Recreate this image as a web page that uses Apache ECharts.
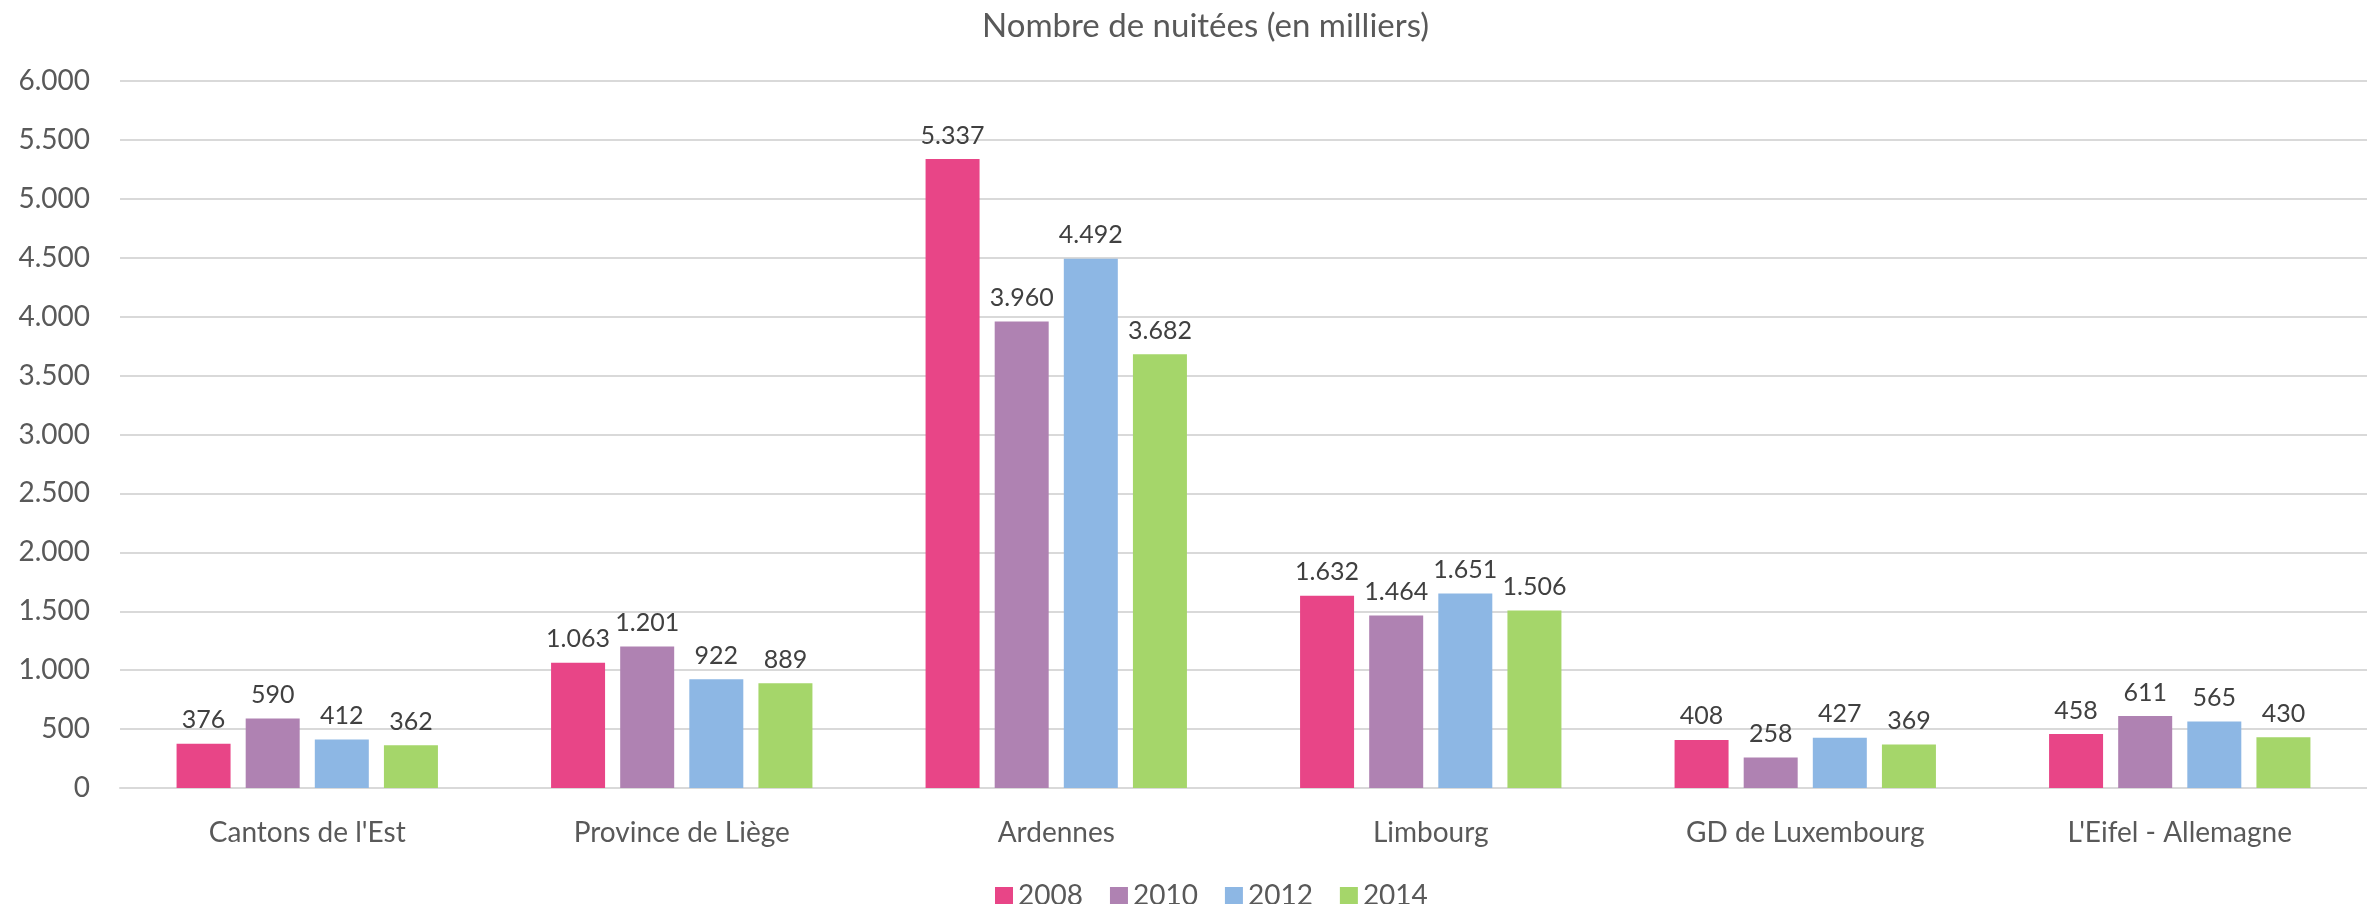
<!DOCTYPE html>
<html>
<head>
<meta charset="utf-8">
<script src="https://cdn.jsdelivr.net/npm/echarts@6/dist/echarts.min.js"></script>
<style>
html,body{margin:0;padding:0;background:#fff;}
#chart{width:2367px;height:904px;}
</style>
</head>
<body>
<div id="chart"></div>
<script>
const categories = ["Cantons de l'Est", "Province de Liège", "Ardennes", "Limbourg", "GD de Luxembourg", "L'Eifel - Allemagne"];
const years = ["2008", "2010", "2012", "2014"];
const values2008 = [376, 1063, 5337, 1632, 408, 458];
const values2010 = [590, 1201, 3960, 1464, 258, 611];
const values2012 = [412, 922, 4492, 1651, 427, 565];
const values2014 = [362, 889, 3682, 1506, 369, 430];
const colors = ["#E84587", "#AF82B2", "#8DB7E4", "#A5D66A"];
const titleText = "Nombre de nuitées (en milliers)";

const FONT = "Lato";
function fmt(v){
  return String(v).replace(/\B(?=(\d{3})+(?!\d))/g, ".");
}
const seriesValues = [values2008, values2010, values2012, values2014];
const chart = echarts.init(document.getElementById('chart'), null, {renderer:'canvas'});
chart.setOption({
  animation: false,
  backgroundColor: '#ffffff',
  color: colors,
  textStyle: {fontFamily: FONT},
  title: {
    text: titleText,
    left: 977,
    top: 5,
    textStyle: {fontFamily: FONT, fontSize: 33, fontWeight: 'normal', color: '#595959'}
  },
  legend: {
    data: years,
    left: 990,
    top: 877,
    itemWidth: 18,
    itemHeight: 18,
    itemGap: 27,
    icon: 'rect',
    textStyle: {fontFamily: FONT, fontSize: 28, color: '#595959'}
  },
  grid: {left: 120, top: 81, width: 2260, height: 707, containLabel: false},
  xAxis: {
    type: 'category',
    data: categories,
    axisLine: {show: true, lineStyle: {color: '#D9D9D9', width: 2}},
    axisTick: {show: false},
    axisLabel: {fontFamily: FONT, fontSize: 28, color: '#595959', margin: 31}
  },
  yAxis: {
    type: 'value',
    min: 0,
    max: 6000,
    interval: 500,
    axisLine: {show: false},
    axisTick: {show: false},
    splitLine: {lineStyle: {color: '#D9D9D9', width: 2}},
    axisLabel: {fontFamily: FONT, fontSize: 28, color: '#595959', margin: 30, formatter: fmt}
  },
  series: years.map((y, i) => ({
    name: y,
    type: 'bar',
    data: seriesValues[i],
    barWidth: 54,
    barGap: '28%',
    itemStyle: {color: colors[i]},
    label: {
      show: true,
      position: 'top',
      distance: 11,
      fontFamily: FONT,
      fontSize: 25,
      color: '#404040',
      formatter: p => fmt(p.value)
    }
  }))
});
</script>
</body>
</html>
